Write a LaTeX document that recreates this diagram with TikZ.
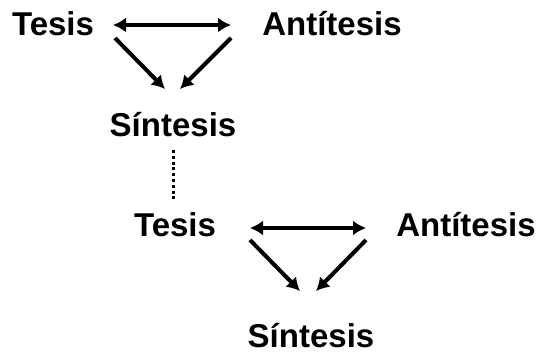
\documentclass[tikz,border=0pt]{standalone}
\usepackage{fontspec}
\setmainfont{Liberation Sans}
\usetikzlibrary{arrows.meta}
\newlength{\du}
\setlength{\du}{1pt}
\definecolor{dialinecolor}{rgb}{0.000000, 0.000000, 0.000000}
\tikzset{
  wordnode/.style={anchor=base,inner sep=0pt,outer sep=0pt,color=dialinecolor,font=\fontsize{33}{40}\bfseries\selectfont},
  linkarrow/.style={draw=dialinecolor,line width=4pt,-{Latex[length=13pt,width=15pt]}},
  botharrow/.style={draw=dialinecolor,line width=4pt,{Latex[length=13pt,width=15pt]}-{Latex[length=13pt,width=15pt]}},
  linkdots/.style={draw=dialinecolor,line width=3pt,dash pattern=on 3pt off 2.8pt}
}
\begin{document}
\begin{tikzpicture}
\pgftransformxscale{1.000000}
\pgftransformyscale{-1.000000}
\useasboundingbox (0\du,0\du) rectangle (539\du,355\du);
% setfont left to latex
\node[wordnode] (tesisA) at (53.000000\du,36.000000\du){Tesis};
\node[wordnode] (antiA) at (332.000000\du,36.000000\du){Antítesis};
\node[wordnode] (sintA) at (173.000000\du,137.000000\du){Síntesis};
\node[wordnode] (tesisB) at (175.000000\du,237.000000\du){Tesis};
\node[wordnode] (antiB) at (466.000000\du,237.000000\du){Antítesis};
\node[wordnode] (sintB) at (311.000000\du,348.000000\du){Síntesis};
% arrow ends, first triangle
\coordinate (leftA) at (113.000000\du,25.000000\du);
\coordinate (rightA) at (231.000000\du,25.000000\du);
\coordinate (leftAd) at (115.000000\du,38.000000\du);
\coordinate (rightAd) at (231.000000\du,38.000000\du);
\coordinate (tipAl) at (165.000000\du,89.000000\du);
\coordinate (tipAr) at (180.000000\du,89.000000\du);
% arrow ends, second triangle
\coordinate (leftB) at (250.000000\du,228.000000\du);
\coordinate (rightB) at (366.000000\du,228.000000\du);
\coordinate (leftBd) at (250.000000\du,240.000000\du);
\coordinate (rightBd) at (366.000000\du,240.000000\du);
\coordinate (tipBl) at (300.000000\du,291.000000\du);
\coordinate (tipBr) at (316.000000\du,291.000000\du);
% dots between the two triangles
\coordinate (dotTop) at (173.500000\du,150.000000\du);
\coordinate (dotBot) at (173.500000\du,201.000000\du);
\draw[botharrow] (leftA)--(rightA);
\draw[linkarrow] (leftAd)--(tipAl);
\draw[linkarrow] (rightAd)--(tipAr);
\draw[botharrow] (leftB)--(rightB);
\draw[linkarrow] (leftBd)--(tipBl);
\draw[linkarrow] (rightBd)--(tipBr);
% was here!!!
\draw[linkdots] (dotTop)--(dotBot);
\end{tikzpicture}
\end{document}
